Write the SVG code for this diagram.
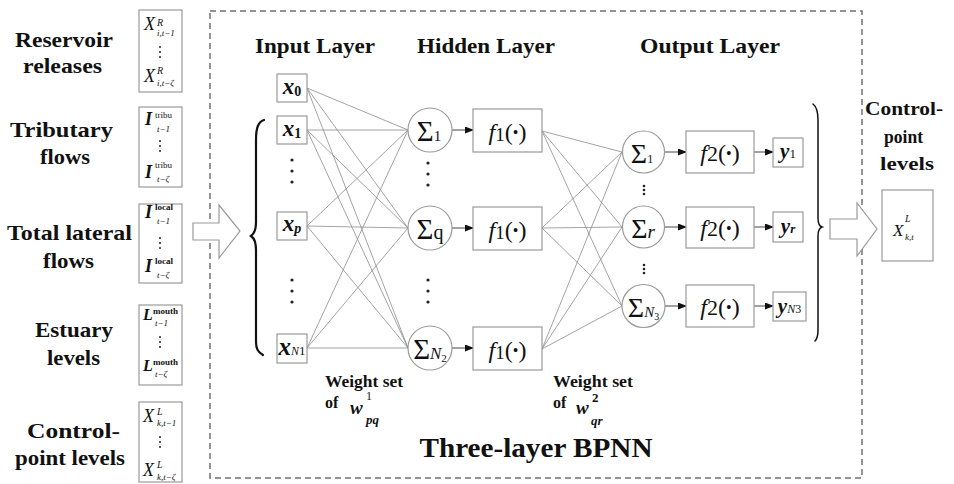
<svg xmlns="http://www.w3.org/2000/svg" width="954" height="484" viewBox="0 0 954 484">
<defs>
<marker id="ah" markerUnits="userSpaceOnUse" markerWidth="9" markerHeight="7" refX="8" refY="3.5" orient="auto">
<path d="M0,0 L9,3.5 L0,7 Z" fill="#111"/>
</marker>
<style>
.box{fill:#fff;stroke:#9a9a9a;stroke-width:1.2}
.conn{stroke:#8c8c8c;stroke-width:0.8;fill:none}
.arr{stroke:#444;stroke-width:1;fill:none;marker-end:url(#ah)}
.brace{stroke:#111;fill:none;stroke-linecap:round}
.dot{fill:#222}
.lbl{font-family:"Liberation Serif","Times New Roman",serif;font-weight:bold;font-size:22px;fill:#111;text-anchor:middle}
.lbl2{font-family:"Liberation Serif","Times New Roman",serif;font-weight:bold;font-size:19px;fill:#111;text-anchor:middle}
.big{font-family:"Liberation Serif","Times New Roman",serif;font-weight:bold;font-size:28px;fill:#111;text-anchor:middle}
.ws{font-family:"Liberation Serif","Times New Roman",serif;font-weight:bold;font-size:16px;fill:#111}
.m{font-family:"Liberation Serif","Times New Roman",serif;fill:#111}
.it{font-style:italic}
.bi{font-style:italic;font-weight:bold}
.b{font-weight:bold}
</style>
</defs>
<rect width="954" height="484" fill="#fff"/>

<!-- dashed frame -->
<rect x="210" y="11" width="652" height="467" fill="none" stroke="#707070" stroke-width="1.5" stroke-dasharray="6 4"/>

<!-- left labels -->
<g id="labels-left">
<text class="lbl" x="64" y="47" textLength="98" lengthAdjust="spacingAndGlyphs">Reservoir</text>
<text class="lbl" x="62.5" y="73" textLength="79" lengthAdjust="spacingAndGlyphs">releases</text>
<text class="lbl" x="61.5" y="137" textLength="103" lengthAdjust="spacingAndGlyphs">Tributary</text>
<text class="lbl" x="65" y="164" textLength="50" lengthAdjust="spacingAndGlyphs">flows</text>
<text class="lbl" x="69.5" y="240" textLength="125" lengthAdjust="spacingAndGlyphs">Total lateral</text>
<text class="lbl" x="68.5" y="268" textLength="51" lengthAdjust="spacingAndGlyphs">flows</text>
<text class="lbl" x="74" y="337" textLength="78" lengthAdjust="spacingAndGlyphs">Estuary</text>
<text class="lbl" x="73.5" y="365" textLength="53" lengthAdjust="spacingAndGlyphs">levels</text>
<text class="lbl" x="73.5" y="438" textLength="93" lengthAdjust="spacingAndGlyphs">Control-</text>
<text class="lbl" x="70" y="465" textLength="110" lengthAdjust="spacingAndGlyphs">point levels</text>
</g>

<!-- left data boxes -->
<g id="in-reservoir">
<rect class="box" x="139" y="10" width="43" height="82"/>
<text class="m it" x="144" y="30" font-size="18">X</text>
<text class="m it" x="157" y="26" font-size="10">R</text>
<text class="m it" x="157" y="36" font-size="9">i,t−1</text>
<circle class="dot" cx="160" cy="47" r="1"/><circle class="dot" cx="160" cy="52" r="1"/><circle class="dot" cx="160" cy="57" r="1"/>
<text class="m it" x="144" y="82" font-size="18">X</text>
<text class="m it" x="157" y="74" font-size="10">R</text>
<text class="m it" x="157" y="86" font-size="9">i,t−ζ</text>
</g>
<g id="in-tributary">
<rect class="box" x="139" y="107" width="43" height="80"/>
<text class="m bi" x="145" y="125" font-size="18">I</text>
<text class="m" x="155" y="118" font-size="9">tribu</text>
<text class="m it" x="157" y="132" font-size="9">t−1</text>
<circle class="dot" cx="160" cy="141" r="1"/><circle class="dot" cx="160" cy="146" r="1"/><circle class="dot" cx="160" cy="151" r="1"/>
<text class="m bi" x="145" y="178" font-size="18">I</text>
<text class="m" x="155" y="168" font-size="9">tribu</text>
<text class="m it" x="157" y="182" font-size="9">t−ζ</text>
</g>
<g id="in-lateral">
<rect class="box" x="139" y="204" width="43" height="79"/>
<text class="m bi" x="145" y="218" font-size="18">I</text>
<text class="m b" x="155" y="210" font-size="9">local</text>
<text class="m it" x="157" y="224" font-size="9">t−1</text>
<circle class="dot" cx="160" cy="238" r="1"/><circle class="dot" cx="160" cy="243" r="1"/><circle class="dot" cx="160" cy="248" r="1"/>
<text class="m bi" x="145" y="272" font-size="18">I</text>
<text class="m b" x="155" y="264" font-size="9">local</text>
<text class="m it" x="157" y="278" font-size="9">t−ζ</text>
</g>
<g id="in-estuary">
<rect class="box" x="139" y="305" width="43" height="80"/>
<text class="m bi" x="143" y="320" font-size="16">L</text>
<text class="m b" x="153" y="314" font-size="9">mouth</text>
<text class="m it" x="155" y="326" font-size="9">t−1</text>
<circle class="dot" cx="160" cy="337" r="1"/><circle class="dot" cx="160" cy="342" r="1"/><circle class="dot" cx="160" cy="347" r="1"/>
<text class="m bi" x="143" y="371" font-size="16">L</text>
<text class="m b" x="153" y="365" font-size="9">mouth</text>
<text class="m it" x="155" y="377" font-size="9">t−ζ</text>
</g>
<g id="in-control">
<rect class="box" x="139" y="402" width="43" height="80"/>
<text class="m it" x="143" y="422" font-size="18">X</text>
<text class="m it" x="157" y="415" font-size="10">L</text>
<text class="m it" x="157" y="426" font-size="9">k,t−1</text>
<circle class="dot" cx="160" cy="437" r="1"/><circle class="dot" cx="160" cy="442" r="1"/><circle class="dot" cx="160" cy="447" r="1"/>
<text class="m it" x="143" y="476" font-size="18">X</text>
<text class="m it" x="157" y="468" font-size="10">L</text>
<text class="m it" x="157" y="480" font-size="9">k,t−ζ</text>
</g>

<!-- block arrows & braces -->
<g id="arrow-in">
<polygon points="193,223 219,223 219,205 240,231 219,258 219,240 193,240" fill="#fff" stroke="#9a9a9a" stroke-width="1.2"/>
</g>
<g id="brace-left">
<path class="brace" stroke-width="2.2" d="M264,120 C258,122 256,128 256,140 L256,222 C256,230 254,234 251,236 C254,238 256,242 256,250 L256,342 C256,349 258,352 263,355"/>
</g>
<g id="brace-right">
<path class="brace" stroke-width="1.5" d="M813,104 C817,107 818,112 818,120 L818,218 C818,223 819,226 822,227 C819,228 818,231 818,236 L818,330 C818,336 817,339 815,341"/>
</g>
<g id="arrow-out">
<polygon points="830,219 857,219 857,203 877,229 857,256 857,239 830,239" fill="#fff" stroke="#9a9a9a" stroke-width="1.2"/>
</g>

<!-- layer titles -->
<g id="titles">
<text class="lbl" x="315" y="53" textLength="120" lengthAdjust="spacingAndGlyphs">Input Layer</text>
<text class="lbl" x="486" y="53" textLength="138" lengthAdjust="spacingAndGlyphs">Hidden Layer</text>
<text class="lbl" x="710" y="53" textLength="140" lengthAdjust="spacingAndGlyphs">Output Layer</text>
<text class="big" x="536" y="457" textLength="233" lengthAdjust="spacingAndGlyphs">Three-layer BPNN</text>
</g>

<!-- connectors -->
<g id="connectors">
<line class="conn" x1="307" y1="88" x2="408" y2="130"/>
<line class="conn" x1="307" y1="88" x2="408" y2="228"/>
<line class="conn" x1="307" y1="88" x2="408" y2="348"/>
<line class="conn" x1="307" y1="130" x2="408" y2="130"/>
<line class="conn" x1="307" y1="130" x2="408" y2="228"/>
<line class="conn" x1="307" y1="130" x2="408" y2="348"/>
<line class="conn" x1="307" y1="226" x2="408" y2="130"/>
<line class="conn" x1="307" y1="226" x2="408" y2="228"/>
<line class="conn" x1="307" y1="226" x2="408" y2="348"/>
<line class="conn" x1="307" y1="348" x2="408" y2="130"/>
<line class="conn" x1="307" y1="348" x2="408" y2="228"/>
<line class="conn" x1="307" y1="348" x2="408" y2="348"/>
<line class="conn" x1="542" y1="131" x2="622" y2="152"/>
<line class="conn" x1="542" y1="131" x2="622" y2="227"/>
<line class="conn" x1="542" y1="131" x2="622" y2="306"/>
<line class="conn" x1="542" y1="228" x2="622" y2="152"/>
<line class="conn" x1="542" y1="228" x2="622" y2="227"/>
<line class="conn" x1="542" y1="228" x2="622" y2="306"/>
<line class="conn" x1="542" y1="349" x2="622" y2="152"/>
<line class="conn" x1="542" y1="349" x2="622" y2="227"/>
<line class="conn" x1="542" y1="349" x2="622" y2="306"/>
<line class="arr" x1="452" y1="130" x2="473" y2="130"/>
<line class="arr" x1="452" y1="228" x2="473" y2="228"/>
<line class="arr" x1="452" y1="348" x2="473" y2="348"/>
<line class="arr" x1="665" y1="152" x2="686" y2="152"/>
<line class="arr" x1="665" y1="227" x2="686" y2="227"/>
<line class="arr" x1="665" y1="306" x2="686" y2="306"/>
<line class="arr" x1="754" y1="152" x2="773" y2="152"/>
<line class="arr" x1="754" y1="227" x2="773" y2="227"/>
<line class="arr" x1="754" y1="306" x2="773" y2="306"/>
</g>

<!-- input nodes -->
<g id="x0">
<rect class="box" x="277" y="74" width="30" height="28"/>
<text class="m" x="292" y="94" text-anchor="middle"><tspan class="bi" font-size="23">x</tspan><tspan class="b" font-size="14" dy="2">0</tspan></text>
</g>
<g id="x1">
<rect class="box" x="277" y="116" width="30" height="28"/>
<text class="m" x="292" y="136" text-anchor="middle"><tspan class="bi" font-size="23">x</tspan><tspan class="b" font-size="14" dy="2">1</tspan></text>
</g>
<g id="xp">
<rect class="box" x="277" y="212" width="30" height="28"/>
<text class="m" x="292" y="231" text-anchor="middle"><tspan class="bi" font-size="23">x</tspan><tspan class="bi" font-size="14" dy="2">p</tspan></text>
</g>
<g id="xN1">
<rect class="box" x="277" y="334" width="30" height="29"/>
<text class="m" x="292" y="355" text-anchor="middle"><tspan class="bi" font-size="25">x</tspan><tspan class="it" font-size="12">N</tspan><tspan font-size="13">1</tspan></text>
</g>
<g id="input-dots">
<circle class="dot" cx="292" cy="160" r="1.6"/><circle class="dot" cx="292" cy="171" r="1.6"/><circle class="dot" cx="292" cy="182" r="1.6"/>
<circle class="dot" cx="292" cy="280" r="1.6"/><circle class="dot" cx="292" cy="291" r="1.6"/><circle class="dot" cx="292" cy="302" r="1.6"/>
</g>

<!-- hidden sum nodes -->
<g id="sum-h1">
<circle cx="430" cy="130" r="22" fill="#fff" stroke="#9a9a9a" stroke-width="1.2"/>
<text class="m" x="429" y="141" text-anchor="middle"><tspan font-size="29">Σ</tspan><tspan font-size="15">1</tspan></text>
</g>
<g id="sum-hq">
<circle cx="430" cy="228" r="22" fill="#fff" stroke="#9a9a9a" stroke-width="1.2"/>
<text class="m" x="430" y="239" text-anchor="middle"><tspan font-size="29">Σ</tspan><tspan font-size="20">q</tspan></text>
</g>
<g id="sum-hN2">
<circle cx="430" cy="348" r="22" fill="#fff" stroke="#9a9a9a" stroke-width="1.2"/>
<text class="m" x="430" y="359" text-anchor="middle"><tspan font-size="29">Σ</tspan><tspan class="it" font-size="17">N</tspan><tspan font-size="11" dy="3">2</tspan></text>
</g>
<g id="hidden-dots">
<circle class="dot" cx="428" cy="163" r="1.6"/><circle class="dot" cx="428" cy="174" r="1.6"/><circle class="dot" cx="428" cy="185" r="1.6"/>
<circle class="dot" cx="428" cy="280" r="1.6"/><circle class="dot" cx="428" cy="291" r="1.6"/><circle class="dot" cx="428" cy="302" r="1.6"/>
</g>

<!-- hidden activation nodes -->
<g id="f1-a">
<rect class="box" x="473" y="109" width="69" height="43"/>
<text class="m" x="507.5" y="140" text-anchor="middle"><tspan class="it" font-size="24">f</tspan><tspan font-size="19" dy="1">1</tspan><tspan font-size="24" dy="-1">(</tspan><tspan font-size="16" dy="-2">•</tspan><tspan font-size="24" dy="2">)</tspan></text>
</g>
<g id="f1-b">
<rect class="box" x="473" y="207" width="69" height="43"/>
<text class="m" x="507.5" y="238" text-anchor="middle"><tspan class="it" font-size="24">f</tspan><tspan font-size="19" dy="1">1</tspan><tspan font-size="24" dy="-1">(</tspan><tspan font-size="16" dy="-2">•</tspan><tspan font-size="24" dy="2">)</tspan></text>
</g>
<g id="f1-c">
<rect class="box" x="473" y="327" width="69" height="43"/>
<text class="m" x="507.5" y="358" text-anchor="middle"><tspan class="it" font-size="24">f</tspan><tspan font-size="19" dy="1">1</tspan><tspan font-size="24" dy="-1">(</tspan><tspan font-size="16" dy="-2">•</tspan><tspan font-size="24" dy="2">)</tspan></text>
</g>

<!-- output sum nodes -->
<g id="sum-o1">
<circle cx="643.5" cy="152" r="21" fill="#fff" stroke="#9a9a9a" stroke-width="1.2"/>
<text class="m" x="642" y="163" text-anchor="middle"><tspan font-size="28">Σ</tspan><tspan font-size="12">1</tspan></text>
</g>
<g id="sum-or">
<circle cx="643.5" cy="227" r="21" fill="#fff" stroke="#9a9a9a" stroke-width="1.2"/>
<text class="m" x="643" y="238" text-anchor="middle"><tspan font-size="28">Σ</tspan><tspan class="it" font-size="19">r</tspan></text>
</g>
<g id="sum-oN3">
<circle cx="643.5" cy="306" r="21.5" fill="#fff" stroke="#9a9a9a" stroke-width="1.2"/>
<text class="m" x="643.5" y="317" text-anchor="middle"><tspan font-size="28">Σ</tspan><tspan class="it" font-size="15">N</tspan><tspan font-size="10" dy="3">3</tspan></text>
</g>
<g id="output-dots">
<circle class="dot" cx="644" cy="186" r="1.3"/><circle class="dot" cx="644" cy="190" r="1.3"/><circle class="dot" cx="644" cy="194" r="1.3"/>
<circle class="dot" cx="644" cy="265" r="1.3"/><circle class="dot" cx="644" cy="269" r="1.3"/><circle class="dot" cx="644" cy="273" r="1.3"/>
</g>

<!-- output activation nodes -->
<g id="f2-a">
<rect class="box" x="686" y="131" width="68" height="42"/>
<text class="m" x="720" y="161" text-anchor="middle"><tspan class="it" font-size="24">f</tspan><tspan font-size="22">2</tspan><tspan font-size="24">(</tspan><tspan font-size="16" dy="-2">•</tspan><tspan font-size="24" dy="2">)</tspan></text>
</g>
<g id="f2-b">
<rect class="box" x="686" y="207" width="68" height="41"/>
<text class="m" x="720" y="236" text-anchor="middle"><tspan class="it" font-size="24">f</tspan><tspan font-size="22">2</tspan><tspan font-size="24">(</tspan><tspan font-size="16" dy="-2">•</tspan><tspan font-size="24" dy="2">)</tspan></text>
</g>
<g id="f2-c">
<rect class="box" x="686" y="285" width="68" height="42"/>
<text class="m" x="720" y="315" text-anchor="middle"><tspan class="it" font-size="24">f</tspan><tspan font-size="22">2</tspan><tspan font-size="24">(</tspan><tspan font-size="16" dy="-2">•</tspan><tspan font-size="24" dy="2">)</tspan></text>
</g>

<!-- outputs -->
<g id="y1">
<rect class="box" x="773" y="138" width="30" height="29"/>
<text class="m" x="788" y="158" text-anchor="middle"><tspan class="bi" font-size="21">y</tspan><tspan font-size="13">1</tspan></text>
</g>
<g id="yr">
<rect class="box" x="773" y="212" width="30" height="30"/>
<text class="m" x="788" y="233" text-anchor="middle"><tspan class="bi" font-size="21">y</tspan><tspan class="bi" font-size="13">r</tspan></text>
</g>
<g id="yN3">
<rect class="box" x="773" y="292" width="33" height="29"/>
<text class="m" x="789.5" y="313" text-anchor="middle"><tspan class="bi" font-size="21">y</tspan><tspan class="it" font-size="12">N</tspan><tspan font-size="12">3</tspan></text>
</g>

<!-- weight labels -->
<g id="weights1">
<text class="ws" x="325" y="387" textLength="78" lengthAdjust="spacingAndGlyphs">Weight set</text>
<text class="ws" x="325" y="408">of</text>
<text class="m bi" x="350" y="414" font-size="19">w</text>
<text class="m" x="366" y="400" font-size="12">1</text>
<text class="m bi" x="366" y="424" font-size="13">pq</text>
</g>
<g id="weights2">
<text class="ws" x="553" y="387" textLength="80" lengthAdjust="spacingAndGlyphs">Weight set</text>
<text class="ws" x="553" y="408">of</text>
<text class="m bi" x="576" y="414" font-size="19">w</text>
<text class="m b" x="592" y="402" font-size="13">2</text>
<text class="m bi" x="591" y="425" font-size="13">qr</text>
</g>

<!-- right output -->
<g id="out-control">
<text class="lbl2" x="904" y="115" textLength="78" lengthAdjust="spacingAndGlyphs">Control-</text>
<text class="lbl2" x="903.5" y="143" textLength="39" lengthAdjust="spacingAndGlyphs">point</text>
<text class="lbl2" x="907" y="170" textLength="54" lengthAdjust="spacingAndGlyphs">levels</text>
<rect class="box" x="882" y="190" width="51" height="71"/>
<text class="m it" x="893" y="236" font-size="17">X</text>
<text class="m it" x="905" y="222" font-size="10">L</text>
<text class="m it" x="905" y="240" font-size="9">k,t</text>
</g>
</svg>
